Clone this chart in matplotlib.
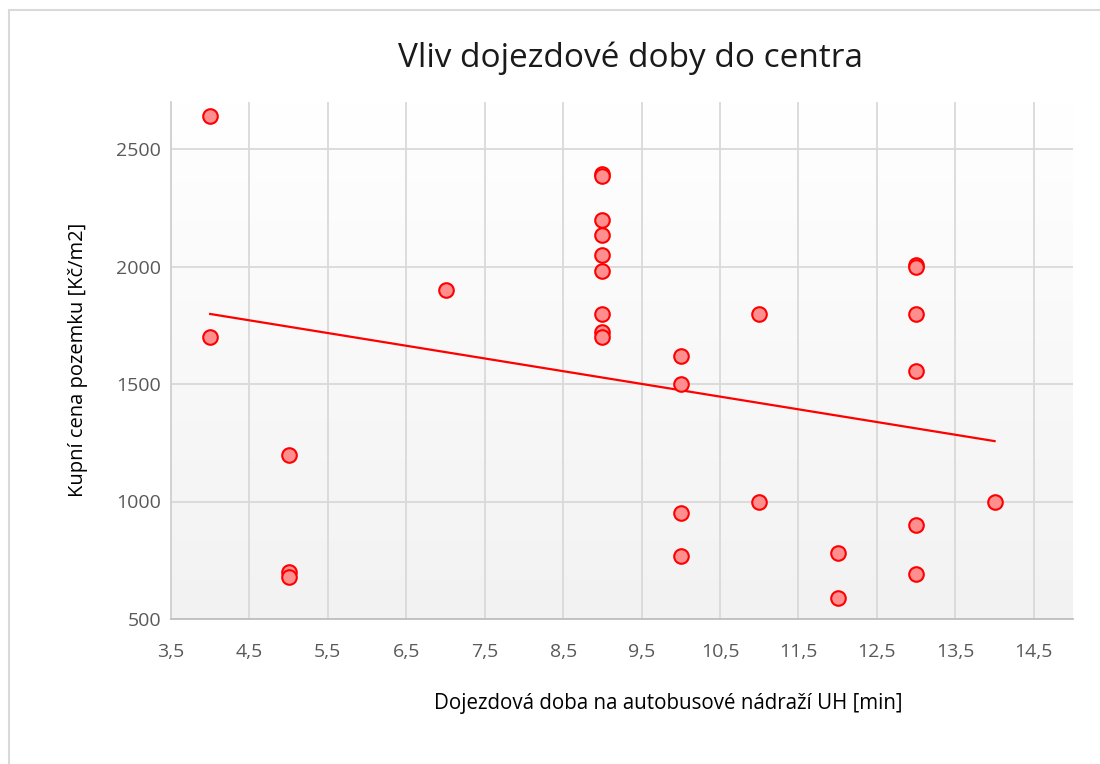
import numpy as np
import matplotlib
matplotlib.use("Agg")
import matplotlib.pyplot as plt
from matplotlib.patches import Rectangle

# --- data ---
travel_min = [4, 4, 5, 5, 5, 7,
              9, 9, 9, 9, 9, 9, 9, 9, 9,
              10, 10, 10, 10, 11, 11, 12, 12,
              13, 13, 13, 13, 13, 13, 14]
price_czk_m2 = [2640, 1700, 1200, 700, 680, 1900,
                2395, 2385, 2200, 2135, 2050, 1980, 1800, 1720, 1700,
                1620, 1500, 950, 770, 1800, 1000, 780, 590,
                2005, 2000, 1800, 1555, 900, 690, 1000]
trend_x = [4, 14]
trend_y = [1798, 1257]
x_ticks = [3.5, 4.5, 5.5, 6.5, 7.5, 8.5, 9.5, 10.5, 11.5, 12.5, 13.5, 14.5]
y_ticks = [500, 1000, 1500, 2000, 2500]

title = "Vliv dojezdové doby do centra"
x_label = "Dojezdová doba na autobusové nádraží UH [min]"
y_label = "Kupní cena pozemku [Kč/m2]"

plt.rcParams['font.family'] = ['Open Sans', 'DejaVu Sans']

W, H = 1100, 764
fig = plt.figure(figsize=(W / 100, H / 100), dpi=100)
fig.patch.set_facecolor('white')

# outer chart border
fig.add_artist(Rectangle((9 / W, -0.05), 1.2, 1 - 10 / H + 0.05,
                         transform=fig.transFigure, fill=False,
                         edgecolor='#d9d9d9', linewidth=1.5))

left, right, top, bottom = 171, 1073, 102, 619
ax = fig.add_axes([left / W, 1 - bottom / H, (right - left) / W, (bottom - top) / H])

ax.set_xlim(3.5, 15)
ax.set_ylim(500, 2700)

# gradient background (white at top -> light grey at bottom)
grad = np.linspace(0, 1, 256).reshape(-1, 1)
top_c = np.array([1.0, 1.0, 1.0])
bot_c = np.array([0xf2, 0xf2, 0xf2]) / 255.0
img = top_c + (bot_c - top_c) * grad
img = np.repeat(img[:, None, :], 2, axis=1)
ax.imshow(img, extent=[3.5, 15, 500, 2700], origin='upper', aspect='auto', zorder=0)

ax.set_xticks(x_ticks)
ax.set_xticklabels([f"{t:.1f}".replace('.', ',') for t in x_ticks])
ax.set_yticks(y_ticks)
ax.set_yticklabels([str(t) for t in y_ticks])
ax.grid(True, color='#d9d9d9', linewidth=1.3, zorder=1)
ax.set_axisbelow(True)
ax.tick_params(length=0, labelsize=14, colors='#595959')
ax.tick_params(axis='y', pad=7)
ax.tick_params(axis='x', pad=17)
for s in ['top', 'right']:
    ax.spines[s].set_visible(False)
ax.spines['left'].set_color('#d0d0d0')
ax.spines['left'].set_linewidth(1.3)
ax.spines['bottom'].set_color('#bfbfbf')
ax.spines['bottom'].set_linewidth(1.3)

ax.plot(trend_x, trend_y, color='#ff0000', linewidth=1.6, zorder=3)
ax.scatter(travel_min, price_czk_m2, s=110, facecolor='#ff8f8f', edgecolor='#ff0000',
           linewidth=1.5, zorder=4)

fig.text(630 / W, 1 - 58 / H, title, ha='center', va='center', fontsize=24, color='#1a1a1a')
fig.text(668 / W, 1 - 704 / H, x_label, ha='center', va='center', fontsize=14.8, color='#000000')
fig.text(78 / W, 1 - 360 / H, y_label, ha='center', va='center', rotation=90,
         fontsize=14.5, color='#000000')

fig.savefig('out.png', dpi=100)
